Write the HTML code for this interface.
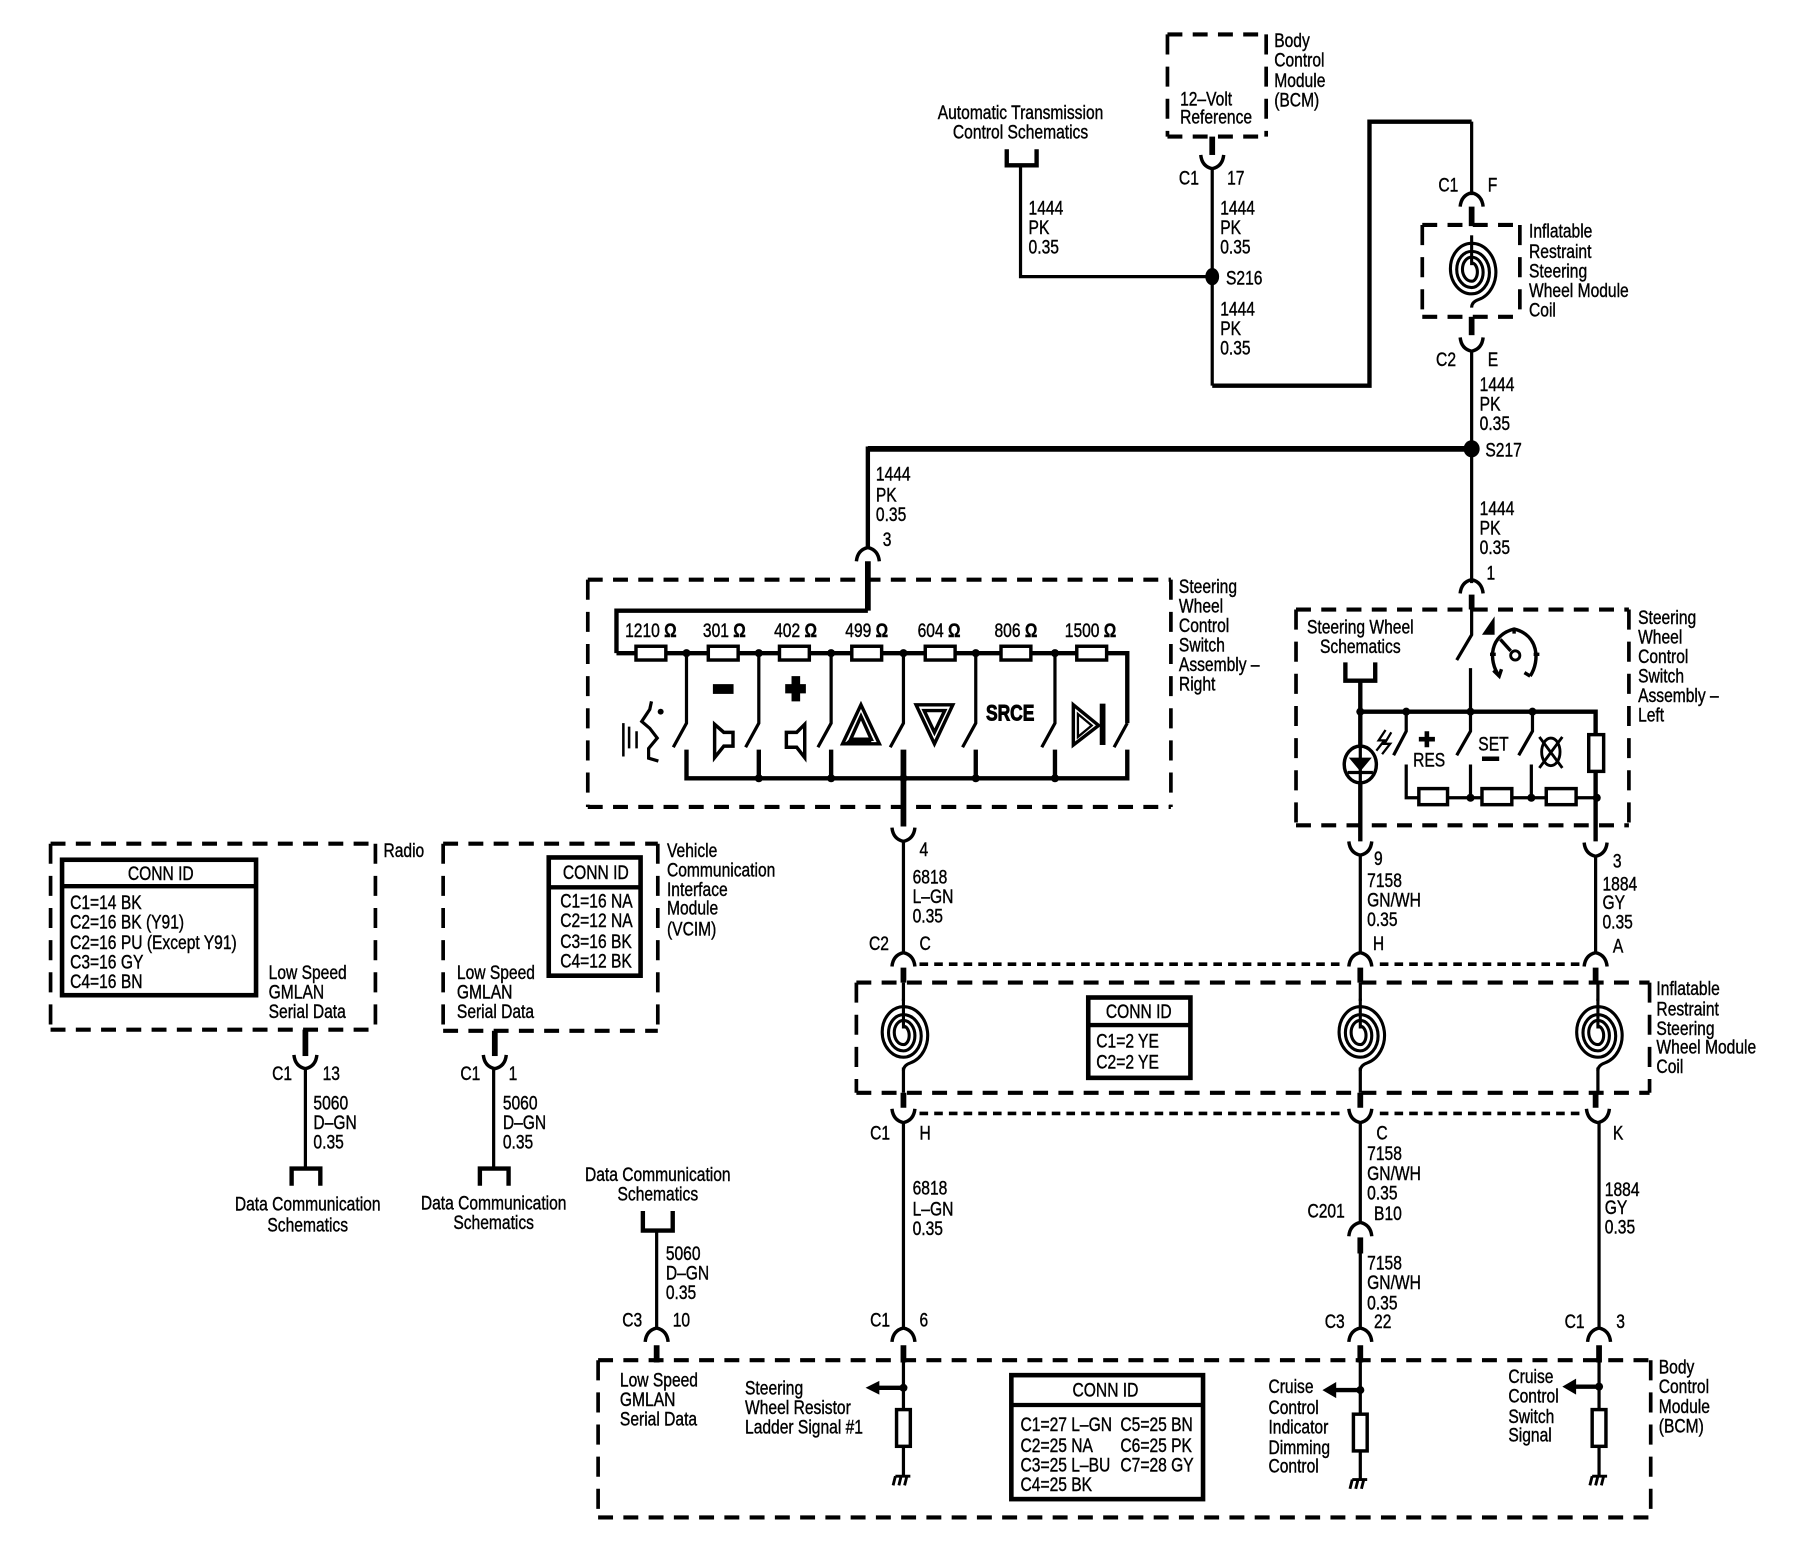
<!DOCTYPE html>
<html><head><meta charset="utf-8"><style>
html,body{margin:0;padding:0;background:#fff}
svg{display:block}
text{font-family:"Liberation Sans",sans-serif;font-size:17px;fill:#000;stroke:#000;stroke-width:.35;dominant-baseline:central;transform-box:fill-box;transform-origin:0 50%;transform:scaleX(.8)}
text.m{text-anchor:middle;transform-origin:50% 50%}
.d{fill:none;stroke:#000;stroke-width:3.6;stroke-dasharray:13 9}
.v{fill:none;stroke:#000;stroke-width:3.2;stroke-dasharray:17.5 10.5}
.t{fill:none;stroke:#000;stroke-width:2.8;stroke-linejoin:miter}
.k{fill:none;stroke:#000;stroke-width:5}
.o{fill:none;stroke:#000;stroke-width:3.8}
.r{fill:#fff;stroke:#000;stroke-width:3}
.f{fill:#000}
.p{fill:none;stroke:#000;stroke-width:3.2;stroke-dasharray:7.5 5.3}
</style></head><body>
<svg width="1800" height="1568" viewBox="0 0 1568 1366" xmlns="http://www.w3.org/2000/svg">
<defs>
<path id="cup" d="M-10 0Q-9 10 0 12Q9 10 10 0" fill="none" stroke="#000" stroke-width="3"/>
<path id="cap" d="M-10 12Q-9 2 0 0Q9 2 10 12" fill="none" stroke="#000" stroke-width="3"/>
<g id="coil" fill="none" stroke="#000" stroke-width="2.7">
<path d="M0 -31V-5"/>
<path d="M0 -7A5 8 0 0 1 0 9A8 10.5 0 0 1 0 -12A10 13.25 0 0 1 0 14.5A13 15.75 0 0 1 0 -17A15.5 18.5 0 0 1 0 20A18.5 22 0 0 1 0 -24A21 25 0 0 1 6 25Q0 27 0 32"/>
</g>
<g id="gnd" fill="none" stroke="#000" stroke-width="2.5"><path d="M-6 0H7M-6 0L-8 8M-1 0L-3 8M4 0L2 8"/></g>
</defs>

<!-- Top section -->
<path class="d" d="M1017 30H1103M1017 119H1103"/><path class="v" d="M1017 30V119M1103 30V119"/>
<text x="1028" y="86">12–Volt</text><text x="1028" y="102">Reference</text>
<text x="1110" y="35">Body</text><text x="1110" y="52">Control</text><text x="1110" y="70">Module</text><text x="1110" y="87">(BCM)</text>
<text class="m" x="889" y="98">Automatic Transmission</text><text class="m" x="889" y="115">Control Schematics</text>
<path class="o" d="M877 130V144H903V130"/>
<path class="t" d="M889 144V241H1056"/>
<path class="k" d="M1056 119V135"/>
<use href="#cup" x="1056" y="135"/>
<path class="t" d="M1056 146V336"/>
<path class="o" d="M1056 336H1193V106H1282"/>
<path class="t" d="M1282 106V170"/>
<ellipse class="f" cx="1056" cy="241" rx="6" ry="7.5"/>
<text x="1027" y="155">C1</text><text x="1069" y="155">17</text>
<text x="896" y="181">1444</text><text x="896" y="198">PK</text><text x="896" y="215">0.35</text>
<text x="1063" y="181">1444</text><text x="1063" y="198">PK</text><text x="1063" y="215">0.35</text>
<text x="1068" y="242">S216</text>
<text x="1063" y="269">1444</text><text x="1063" y="286">PK</text><text x="1063" y="303">0.35</text>

<use href="#cap" x="1282" y="168"/>
<path class="k" d="M1282 180V197"/>
<path class="d" d="M1239 196H1324M1239 276H1324"/><path class="v" d="M1239 196V276M1324 196V276"/>
<use href="#coil" x="1282" y="236"/>
<path class="k" d="M1282 276V292"/>
<use href="#cup" x="1282" y="294"/>
<text x="1253" y="161">C1</text><text x="1296" y="161">F</text>
<text x="1332" y="201">Inflatable</text><text x="1332" y="219">Restraint</text><text x="1332" y="236">Steering</text><text x="1332" y="253">Wheel Module</text><text x="1332" y="270">Coil</text>
<text x="1251" y="313">C2</text><text x="1296" y="313">E</text>
<path class="t" d="M1282 305V508"/>
<text x="1289" y="335">1444</text><text x="1289" y="352">PK</text><text x="1289" y="369">0.35</text>
<path class="k" d="M756 391H1282"/>
<ellipse class="f" cx="1282" cy="391" rx="7" ry="7.5"/>
<text x="1294" y="392">S217</text>
<text x="1289" y="443">1444</text><text x="1289" y="460">PK</text><text x="1289" y="477">0.35</text>
<text x="1295" y="499">1</text>
<path class="o" d="M756 389V478"/>
<text x="763" y="413">1444</text><text x="763" y="431">PK</text><text x="763" y="448">0.35</text>
<text x="769" y="470">3</text>
<use href="#cap" x="756" y="477"/>

<!-- Right switch assembly -->
<path class="d" d="M512 505H1020M512 703H1020"/><path class="v" d="M512 505V703M1020 505V703"/>
<text x="1027" y="511">Steering</text><text x="1027" y="528">Wheel</text><text x="1027" y="545">Control</text><text x="1027" y="562">Switch</text><text x="1027" y="579">Assembly –</text><text x="1027" y="596">Right</text>
<path class="k" d="M756 489V532"/><path class="o" d="M756 532H537V569"/>
<path class="o" d="M537 569H982V630"/>
<rect class="r" x="554" y="563" width="26" height="12"/><rect class="r" x="617" y="563" width="26" height="12"/><rect class="r" x="679" y="563" width="26" height="12"/><rect class="r" x="742" y="563" width="26" height="12"/><rect class="r" x="806" y="563" width="26" height="12"/><rect class="r" x="872" y="563" width="26" height="12"/><rect class="r" x="938" y="563" width="26" height="12"/>
<text class="m" x="567" y="549">1210 <tspan font-weight="bold">Ω</tspan></text>
<text class="m" x="631" y="549">301 <tspan font-weight="bold">Ω</tspan></text>
<text class="m" x="693" y="549">402 <tspan font-weight="bold">Ω</tspan></text>
<text class="m" x="755" y="549">499 <tspan font-weight="bold">Ω</tspan></text>
<text class="m" x="818" y="549">604 <tspan font-weight="bold">Ω</tspan></text>
<text class="m" x="885" y="549">806 <tspan font-weight="bold">Ω</tspan></text>
<text class="m" x="950" y="549">1500 <tspan font-weight="bold">Ω</tspan></text>
<path class="t" d="M598 569V630L586.5 651M661 569V630L649.5 651M724 569V630L712.5 651M787 569V630L775.5 651M850 569V630L838.5 651M919 569V630L907.5 651M982 630L970.5 651"/>
<path class="o" d="M598 653V678H982V653M661 653V678M724 653V678M850 653V678M919 653V678"/>
<path class="k" d="M787 653V720"/>
<g class="f">
<circle cx="598" cy="569" r="3.5"/><circle cx="661" cy="569" r="3.5"/><circle cx="724" cy="569" r="3.5"/><circle cx="787" cy="569" r="3.5"/><circle cx="850" cy="569" r="3.5"/><circle cx="919" cy="569" r="3.5"/>
<circle cx="661" cy="678" r="3.5"/><circle cx="724" cy="678" r="3.5"/><circle cx="787" cy="678" r="3.5"/><circle cx="850" cy="678" r="3.5"/><circle cx="919" cy="678" r="3.5"/>
<rect x="621" y="596" width="18" height="8.5"/>
<path d="M689.5 589H697V596H702V604H697V611H689.5V604H684V596H689.5Z"/>
<circle cx="575.5" cy="620" r="2.6"/>
</g>
<!-- voice icon -->
<path fill="none" stroke="#000" stroke-width="2.8" d="M567.5 611L566 618L559 628.5L566 634.5L572.5 643L565 652V660.5L573.5 663"/>
<path fill="none" stroke="#000" stroke-width="2.2" d="M543 630V659M548 633V652M554.5 637V652"/>
<!-- speakers -->
<path fill="none" stroke="#000" stroke-width="3" d="M622.5 631L630.5 638H638.5V650H630.5L622.5 660Z"/>
<path fill="none" stroke="#000" stroke-width="3" d="M701 631L694 638H685V651H694L701 660Z"/>
<!-- triangles -->
<path fill="none" stroke="#000" stroke-width="3" d="M750 614L766 648H734Z"/><path fill="none" stroke="#000" stroke-width="3" d="M750 624L759 644H741Z"/><path class="f" d="M741 643H759V649H734Z"/>
<path fill="none" stroke="#000" stroke-width="3" d="M798 614H830L814 648Z"/><path fill="none" stroke="#000" stroke-width="3" d="M805 619H823L814 638Z"/>
<text class="m" x="880" y="622" font-weight="bold" style="font-size:19px;stroke-width:.8">SRCE</text>
<!-- next -->
<path fill="none" stroke="#000" stroke-width="3" d="M935 614L957 632L935 649Z"/><path fill="none" stroke="#000" stroke-width="2" d="M939 622L951 632L939 642Z"/><rect class="f" x="958" y="613" width="5" height="36"/>
<use href="#cup" x="787" y="721"/>
<path class="t" d="M787 733V830"/>
<text x="801" y="740">4</text>
<text x="795" y="764">6818</text><text x="795" y="781">L–GN</text><text x="795" y="798">0.35</text>
<text x="757" y="822">C2</text><text x="801" y="822">C</text>

<!-- Left switch assembly -->
<path class="d" d="M1129 531H1419M1129 719H1419"/><path class="v" d="M1129 531V719M1419 531V719"/>
<text x="1427" y="538">Steering</text><text x="1427" y="555">Wheel</text><text x="1427" y="572">Control</text><text x="1427" y="589">Switch</text><text x="1427" y="606">Assembly –</text><text x="1427" y="623">Left</text>
<text class="m" x="1185" y="546">Steering Wheel</text><text class="m" x="1185" y="563">Schematics</text>
<use href="#cap" x="1282" y="505"/>
<path class="k" d="M1282 518V531"/>
<path class="t" d="M1282 531V553L1269 575M1281 582V620"/>
<path class="o" d="M1172 577V593H1198V577"/>
<path class="o" d="M1185 593V733M1185 620H1390V733"/>
<g class="f">
<circle cx="1185" cy="620" r="3.5"/><circle cx="1225" cy="620" r="3.5"/><circle cx="1281" cy="620" r="3.5"/><circle cx="1335" cy="620" r="3.5"/>
<circle cx="1281" cy="695" r="3.5"/><circle cx="1334" cy="695" r="3.5"/><circle cx="1391" cy="695" r="3.5"/>
</g>
<path class="t" d="M1225 620V637L1214 658M1281 620V637L1269 658M1335 620V637L1323 658"/>
<path class="t" d="M1225 666V695H1390M1281 666V695M1334 666V695"/>
<rect class="r" x="1236" y="687" width="25" height="14"/><rect class="r" x="1291" y="687" width="26" height="14"/><rect class="r" x="1347" y="687" width="26" height="14"/>
<rect class="r" x="1384" y="640" width="13" height="32"/>
<ellipse cx="1185" cy="666" rx="14" ry="16" fill="#fff" stroke="#000" stroke-width="3"/>
<path class="t" d="M1185 650V682M1174 673H1196"/>
<path class="f" d="M1175 660H1195L1185 672Z"/>
<path fill="none" stroke="#000" stroke-width="2" d="M1207 636L1201 645L1206 645L1199 654M1212 638L1206 648L1211 648L1204 657"/>
<text class="m" x="1245" y="662">RES</text><text class="m" x="1301" y="648">SET</text>
<path class="f" d="M1241 637H1245V642H1250V646H1245V651H1241V646H1236V642H1241ZM1291 659H1306V663H1291Z"/>
<!-- X lamp -->
<ellipse cx="1351" cy="655" rx="8" ry="12" fill="none" stroke="#000" stroke-width="2.5"/>
<path fill="none" stroke="#000" stroke-width="2.5" d="M1341 642L1361 669M1361 642L1341 669"/>
<!-- speedometer -->
<path fill="none" stroke="#000" stroke-width="3" d="M1306 589C1296 575 1298 553 1319 548C1340 553 1342 575 1333 589"/>
<path fill="none" stroke="#000" stroke-width="3" d="M1319 547V552M1298 570H1303M1336 570H1341M1301 584L1306 589L1308 583M1333 589L1328 586M1316 567L1307 557"/>
<circle cx="1320" cy="571" r="4" fill="none" stroke="#000" stroke-width="2.5"/>
<path class="f" d="M1291 553L1302 537V553Z"/>

<use href="#cup" x="1185" y="733"/><use href="#cup" x="1390" y="734"/>
<path class="t" d="M1185 745V830M1390 746V830"/>
<text x="1197" y="748">9</text><text x="1191" y="767">7158</text><text x="1191" y="784">GN/WH</text><text x="1191" y="801">0.35</text><text x="1196" y="822">H</text>
<text x="1405" y="750">3</text><text x="1396" y="770">1884</text><text x="1396" y="786">GY</text><text x="1396" y="803">0.35</text><text x="1405" y="824">A</text>

<!-- Coil module -->
<use href="#cap" x="787" y="830"/><use href="#cap" x="1185" y="830"/><use href="#cap" x="1390" y="830"/>
<path class="p" d="M801 840H1170M1202 840H1378"/>
<path class="d" d="M746 856H1437M746 952H1437"/><path class="v" d="M746 856V952M1437 856V952"/>
<path class="k" d="M787 843V856M1185 843V856M1390 843V856M787 952V965M1185 952V965M1390 952V965"/>
<path class="t" d="M787 856V872M1185 856V872M1392 856V872M787 930V952M1185 930V952M1392 930V952"/>
<use href="#coil" x="787" y="901"/><use href="#coil" x="1185" y="901"/><use href="#coil" x="1392" y="901"/>
<rect x="948" y="869" width="89" height="70" fill="#fff" stroke="#000" stroke-width="4"/>
<path class="o" d="M948 893H1037"/>
<text class="m" x="992" y="881">CONN ID</text><text x="955" y="907">C1=2 YE</text><text x="955" y="925">C2=2 YE</text>
<text x="1443" y="861">Inflatable</text><text x="1443" y="879">Restraint</text><text x="1443" y="896">Steering</text><text x="1443" y="912">Wheel Module</text><text x="1443" y="929">Coil</text>
<use href="#cup" x="787" y="966"/><use href="#cup" x="1185" y="966"/><use href="#cup" x="1392" y="966"/>
<path class="p" d="M801 970H1170M1202 970H1380"/>

<path class="t" d="M787 978V1157M1185 978V1065M1185 1080V1157M1393 978V1157"/>
<text x="758" y="987">C1</text><text x="801" y="987">H</text>
<text x="795" y="1035">6818</text><text x="795" y="1053">L–GN</text><text x="795" y="1070">0.35</text>
<text x="1199" y="987">C</text><text x="1191" y="1005">7158</text><text x="1191" y="1022">GN/WH</text><text x="1191" y="1039">0.35</text>
<text x="1139" y="1055">C201</text><text x="1197" y="1057">B10</text>
<use href="#cap" x="1185" y="1065"/>
<path class="k" d="M1185 1078V1092"/>
<text x="1191" y="1100">7158</text><text x="1191" y="1117">GN/WH</text><text x="1191" y="1135">0.35</text>
<text x="1405" y="987">K</text><text x="1398" y="1036">1884</text><text x="1398" y="1052">GY</text><text x="1398" y="1069">0.35</text>
<text x="758" y="1150">C1</text><text x="801" y="1150">6</text>
<text x="1154" y="1151">C3</text><text x="1197" y="1151">22</text>
<text x="1363" y="1151">C1</text><text x="1408" y="1151">3</text>
<text x="542" y="1150">C3</text><text x="586" y="1150">10</text>

<!-- BCM bottom -->
<use href="#cap" x="572" y="1157"/><use href="#cap" x="787" y="1157"/><use href="#cap" x="1185" y="1157"/><use href="#cap" x="1393" y="1157"/>
<path class="d" d="M521 1185H1438M521 1322H1438"/><path class="v" d="M521 1185V1322M1438 1185V1322"/>
<path class="k" d="M572 1172V1187M787 1172V1187M1185 1172V1187M1393 1172V1187"/>
<path class="t" d="M787 1187V1285M1185 1187V1288M1393 1187V1285"/>
<rect class="r" x="781" y="1228" width="12" height="32"/><rect class="r" x="1179" y="1232" width="12" height="32"/><rect class="r" x="1387" y="1228" width="12" height="32"/>
<path class="o" d="M764 1209H787M1162 1211H1185M1371 1208H1393"/>
<path class="f" d="M754 1209L766 1203V1215ZM1152 1211L1164 1204V1218ZM1361 1208L1373 1201V1215Z"/>
<circle class="f" cx="787" cy="1209" r="3.5"/><circle class="f" cx="1185" cy="1211" r="3.5"/><circle class="f" cx="1393" cy="1208" r="3.5"/>
<use href="#gnd" x="786" y="1286"/><use href="#gnd" x="1184" y="1289"/><use href="#gnd" x="1393" y="1286"/>
<text x="540" y="1202">Low Speed</text><text x="540" y="1219">GMLAN</text><text x="540" y="1236">Serial Data</text>
<text x="649" y="1209">Steering</text><text x="649" y="1226">Wheel Resistor</text><text x="649" y="1243">Ladder Signal #1</text>
<rect x="881" y="1198" width="167" height="108" fill="#fff" stroke="#000" stroke-width="4"/>
<path class="o" d="M881 1224H1048"/>
<text class="m" x="963" y="1211">CONN ID</text>
<text x="889" y="1241">C1=27 L–GN</text><text x="889" y="1259">C2=25 NA</text><text x="889" y="1276">C3=25 L–BU</text><text x="889" y="1293">C4=25 BK</text>
<text x="976" y="1241">C5=25 BN</text><text x="976" y="1259">C6=25 PK</text><text x="976" y="1276">C7=28 GY</text>
<text x="1105" y="1208">Cruise</text><text x="1105" y="1226">Control</text><text x="1105" y="1243">Indicator</text><text x="1105" y="1261">Dimming</text><text x="1105" y="1277">Control</text>
<text x="1314" y="1199">Cruise</text><text x="1314" y="1216">Control</text><text x="1314" y="1234">Switch</text><text x="1314" y="1250">Signal</text>
<text x="1445" y="1191">Body</text><text x="1445" y="1208">Control</text><text x="1445" y="1225">Module</text><text x="1445" y="1242">(BCM)</text>

<!-- Data comm 3 -->
<text class="m" x="573" y="1023">Data Communication</text><text class="m" x="573" y="1040">Schematics</text>
<path class="o" d="M560 1055V1072H586V1055"/>
<path class="t" d="M572 1072V1157"/>
<text x="580" y="1092">5060</text><text x="580" y="1109">D–GN</text><text x="580" y="1126">0.35</text>

<!-- Radio -->
<path class="d" d="M44 735H327M44 897H327"/><path class="v" d="M44 735V897M327 735V897"/>
<text x="334" y="741">Radio</text>
<rect x="54" y="749" width="169" height="118" fill="#fff" stroke="#000" stroke-width="4"/>
<path class="o" d="M54 772H223"/>
<text class="m" x="140" y="761">CONN ID</text>
<text x="61" y="786">C1=14 BK</text><text x="61" y="803">C2=16 BK (Y91)</text><text x="61" y="821">C2=16 PU (Except Y91)</text><text x="61" y="838">C3=16 GY</text><text x="61" y="855">C4=16 BN</text>
<text x="234" y="847">Low Speed</text><text x="234" y="864">GMLAN</text><text x="234" y="881">Serial Data</text>
<path class="k" d="M266 897V920"/>
<use href="#cup" x="266" y="919"/>
<path class="t" d="M266 931V1018"/>
<text x="237" y="935">C1</text><text x="281" y="935">13</text>
<text x="273" y="961">5060</text><text x="273" y="978">D–GN</text><text x="273" y="995">0.35</text>
<path class="o" d="M254 1033V1018H279V1033"/>
<text class="m" x="268" y="1049">Data Communication</text><text class="m" x="268" y="1067">Schematics</text>

<!-- VCIM -->
<path class="d" d="M386 735H573M386 898H573"/><path class="v" d="M386 735V898M573 735V898"/>
<rect x="478" y="747" width="80" height="103" fill="#fff" stroke="#000" stroke-width="4"/>
<path class="o" d="M478 773H558"/>
<text class="m" x="519" y="760">CONN ID</text>
<text x="488" y="785">C1=16 NA</text><text x="488" y="802">C2=12 NA</text><text x="488" y="820">C3=16 BK</text><text x="488" y="837">C4=12 BK</text>
<text x="398" y="847">Low Speed</text><text x="398" y="864">GMLAN</text><text x="398" y="881">Serial Data</text>
<text x="581" y="741">Vehicle</text><text x="581" y="758">Communication</text><text x="581" y="775">Interface</text><text x="581" y="791">Module</text><text x="581" y="809">(VCIM)</text>
<path class="k" d="M431 898V920"/>
<use href="#cup" x="431" y="919"/>
<path class="t" d="M430 931V1018"/>
<text x="401" y="935">C1</text><text x="443" y="935">1</text>
<text x="438" y="961">5060</text><text x="438" y="978">D–GN</text><text x="438" y="995">0.35</text>
<path class="o" d="M418 1033V1018H443V1033"/>
<text class="m" x="430" y="1048">Data Communication</text><text class="m" x="430" y="1065">Schematics</text>
</svg>
</body></html>
